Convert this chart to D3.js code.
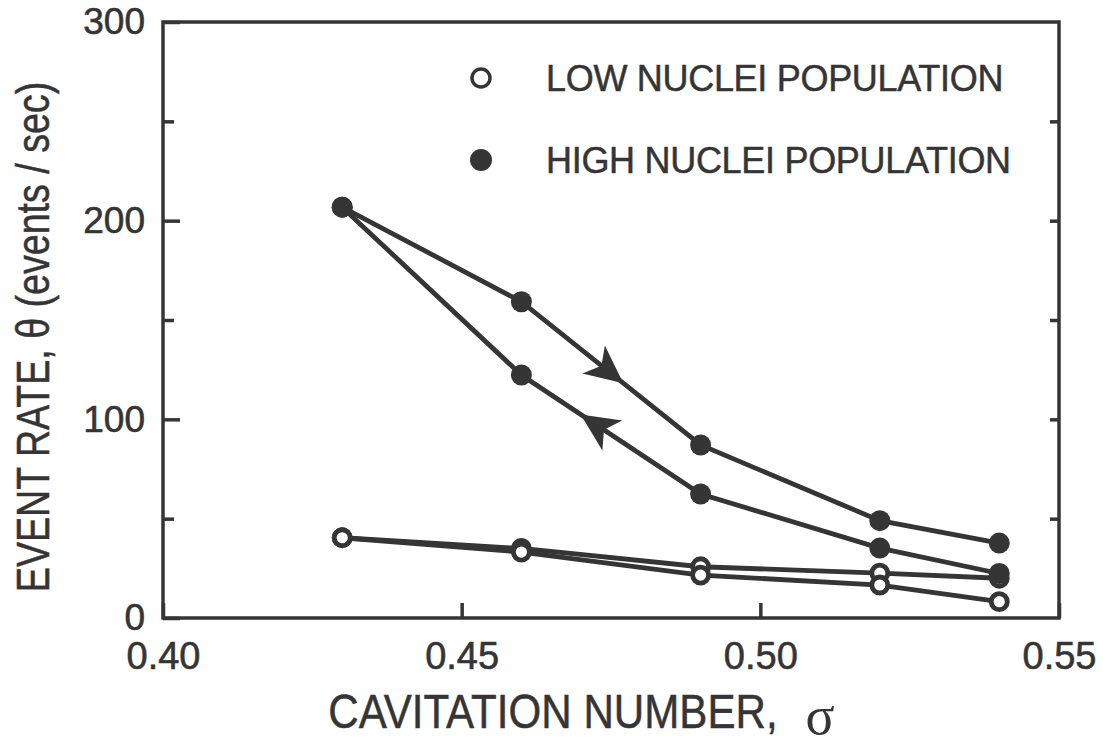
<script src='https://cdn.jsdelivr.net/npm/d3@7'></script>
<body style='margin:0;background:#fff;'>
<svg id='chart'></svg>
<script>
// cavitation number on x, event rate on y
var sigma    = [0.43, 0.46, 0.49, 0.52, 0.54];
var highUp   = [206.8, 159.2, 87.1, 49.0, 37.7];   // sigma increasing
var highDown = [206.8, 122.3, 62.4, 35.2, 22.4];   // sigma decreasing
var lowUp    = [40.4, 35.0, 25.8, 22.6, 20.0];
var lowDown  = [40.4, 33.2, 21.6, 16.6, 8.2];
var xTicks   = [0.40, 0.45, 0.50, 0.55];
var yTicks   = [0, 100, 200, 300];
var yMinor   = [50, 150, 250];
var legendNames = ['LOW NUCLEI POPULATION', 'HIGH NUCLEI POPULATION'];

var W=1103, H=746, ink='#353535',
    sans="'Liberation Sans', Arial, sans-serif";

var svg=d3.select('#chart').attr('width',W).attr('height',H);

var x=d3.scaleLinear().domain([0.40,0.55]).range([163,1059]),
    y=d3.scaleLinear().domain([0,300]).range([618,22]);

function pts(vals){return sigma.map(function(s,i){return {x:s,y:vals[i]};});}
var line=d3.line().x(function(d){return x(d.x);}).y(function(d){return y(d.y);});

// frame
svg.append('rect').attr('x',x(0.40)).attr('y',y(300))
   .attr('width',x(0.55)-x(0.40)).attr('height',y(0)-y(300))
   .attr('fill','none').attr('stroke',ink).attr('stroke-width',3.5);

function style(g,size){
  g.select('.domain').remove();
  g.selectAll('line').attr('stroke',ink).attr('stroke-width',3.5);
  g.selectAll('text').attr('fill',ink).attr('stroke',ink).attr('stroke-width',0.6)
   .style('font-family',sans).style('font-size',size+'px');
}
var yAx=svg.append('g').attr('transform','translate('+x(0.40)+',0)')
   .call(d3.axisLeft(y).tickValues(yTicks).tickSize(-17).tickPadding(18).tickFormat(d3.format('d')));
style(yAx,37);
var yAxMin=svg.append('g').attr('transform','translate('+x(0.40)+',0)')
   .call(d3.axisLeft(y).tickValues(yMinor).tickSize(-11).tickFormat(''));
style(yAxMin,37);
var yAxR=svg.append('g').attr('transform','translate('+x(0.55)+',0)')
   .call(d3.axisRight(y).tickValues(yMinor.concat([100,200])).tickSize(-9).tickFormat(''));
style(yAxR,37);
var xAx=svg.append('g').attr('transform','translate(0,'+y(0)+')')
   .call(d3.axisBottom(x).tickValues(xTicks).tickSize(-15).tickPadding(24).tickFormat(d3.format('.2f')));
style(xAx,38);

// axis titles, condensed horizontally like the original lettering
svg.append('text').attr('transform','translate(49,337) rotate(-90) scale(0.8,1)')
   .attr('text-anchor','middle').attr('fill',ink).attr('stroke',ink).attr('stroke-width',0.5)
   .style('font-family',sans).style('font-size','47px')
   .text('EVENT RATE, \u03b8 (events / sec)');
svg.append('text').attr('transform','translate(553,728) scale(0.86,1)')
   .attr('text-anchor','middle').attr('fill',ink).attr('stroke',ink).attr('stroke-width',0.5)
   .style('font-family',sans).style('font-size','49px')
   .text('CAVITATION NUMBER,');
svg.append('text').attr('x',820).attr('y',734).attr('text-anchor','middle')
   .attr('fill',ink).style('font-family',"'Liberation Serif', serif")
   .style('font-size','54px').text('\u03c3');

// low nuclei (open)
[lowUp,lowDown].forEach(function(v){
  svg.append('path').datum(pts(v)).attr('d',line)
     .attr('fill','none').attr('stroke',ink).attr('stroke-width',4.8);
});
[lowUp,lowDown].forEach(function(v){
  svg.selectAll(null).data(pts(v)).enter().append('circle')
     .attr('cx',function(d){return x(d.x);}).attr('cy',function(d){return y(d.y);})
     .attr('r',8).attr('fill','#fff').attr('stroke',ink).attr('stroke-width',4.8);
});
// high nuclei (filled)
[highUp,highDown].forEach(function(v){
  svg.append('path').datum(pts(v)).attr('d',line)
     .attr('fill','none').attr('stroke',ink).attr('stroke-width',4.8);
  svg.selectAll(null).data(pts(v)).enter().append('circle')
     .attr('cx',function(d){return x(d.x);}).attr('cy',function(d){return y(d.y);})
     .attr('r',10.5).attr('fill',ink);
});

// direction arrows on the high nuclei loop
function arrow(vals,i,j,t){
  var x0=x(sigma[i]),y0=y(vals[i]),x1=x(sigma[j]),y1=y(vals[j]);
  var px=x0+(x1-x0)*t, py=y0+(y1-y0)*t,
      ang=Math.atan2(y1-y0,x1-x0)*180/Math.PI;
  svg.append('path').attr('d','M2,0L-36,-18L-26,0L-36,18Z')
     .attr('transform','translate('+px+','+py+') rotate('+ang+')').attr('fill',ink);
}
arrow(highUp,1,2,0.56);
arrow(highDown,2,1,0.66);

// legend
var leg=svg.append('g');
legendNames.forEach(function(n,i){
  var ly=[78,160][i];
  leg.append('circle').attr('cx',481).attr('cy',ly).attr('r',i?11:9)
     .attr('fill',i?ink:'#fff').attr('stroke',ink).attr('stroke-width',i?0:3.5);
  leg.append('text').attr('x',546).attr('y',ly).attr('dy','0.36em').attr('fill',ink)
     .attr('stroke',ink).attr('stroke-width',0.5)
     .style('font-family',sans).style('font-size','36px').style('letter-spacing','-0.3px').text(n);
});
</script>
</body>
